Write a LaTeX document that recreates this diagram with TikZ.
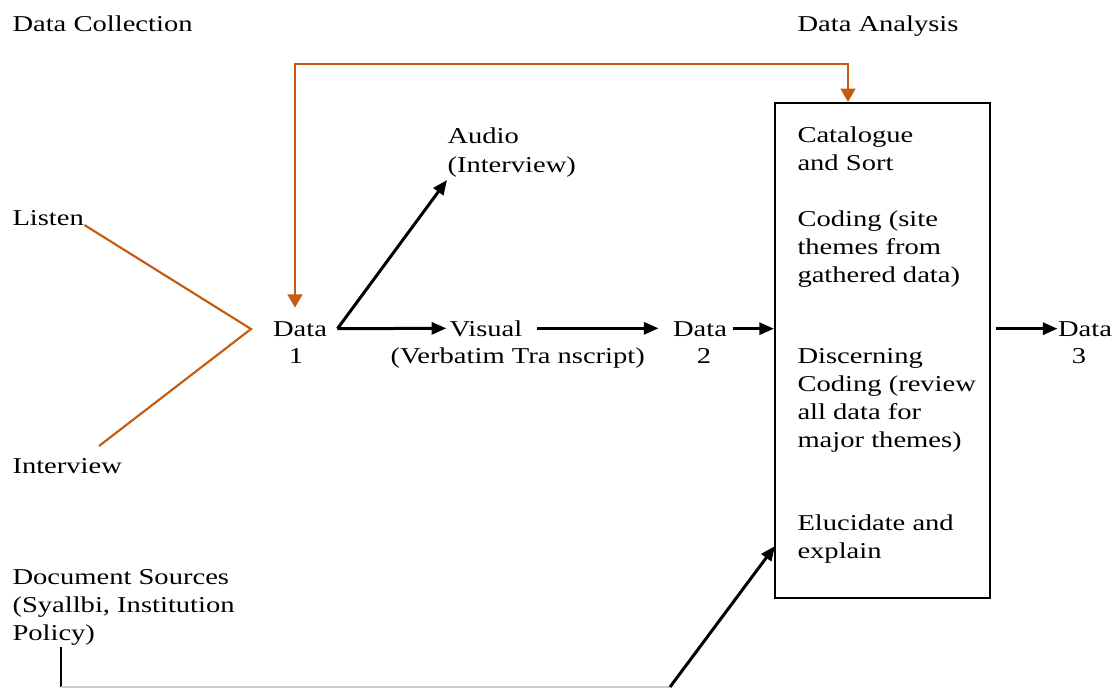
\documentclass[tikz,border=0pt]{standalone}
\usepackage{fontspec}
\setmainfont{Liberation Serif}[FakeStretch=1.26]
\usetikzlibrary{arrows.meta}

\definecolor{fbcol}{RGB}{197,90,17}
\newcommand\diagfont{\fontsize{17pt}{21pt}\selectfont}

\tikzset{every picture/.style={line width=0.75pt}}
\tikzset{
  txt/.style={inner sep=0pt, font=\diagfont, align=left, anchor=base west},
  num/.style={inner sep=0pt, font=\diagfont, anchor=base},
  arr/.style={line width=2.25pt, -{Triangle[length=11pt,width=9pt]}},
  fbline/.style={draw=fbcol, line width=2pt, {Triangle[length=10pt,width=11pt]}-{Triangle[length=10pt,width=11pt]}},
  srcline/.style={draw=fbcol, line width=1.6pt},
  stagebox/.style={draw, line width=1.6pt, minimum width=161.25pt, minimum height=371.25pt, inner sep=0pt},
}

\begin{document}
\begin{tikzpicture}[x=0.75pt,y=-0.75pt]
\path[fill=white,use as bounding box] (0,0) rectangle (1116,688);

% Headings
\node[txt] (colhead) at (12,32) {Data Collection};
\node[txt] (anahead) at (797,32) {Data Analysis};

% Sources (base = last line)
\node[txt] (listen) at (12,225) {Listen};
\node[txt] (interview) at (12,473) {Interview};
\node[txt] (doc) at (12,640) {Document Sources\\(Syallbi, Institution\\Policy)};

% Data stages
\node[num] (d1) at (300,336) {Data};
\node[num] (d1n) at (296,363) {1};
\node[txt] (audio) at (447,172) {Audio\\(Interview)};
\node[txt] (vis) at (449,336) {Visual};
\node[txt] (visnote) at (390,363) {(Verbatim Tra nscript)};
\node[num] (d2) at (700,336) {Data};
\node[num] (d2n) at (704,363) {2};
\node[num] (d3) at (1085,336) {Data};
\node[num] (d3n) at (1079,363) {3};

% Analysis box
\node[stagebox] (box) at (882.5,350.5) {};
\node[txt] (s1) at (797,171) {Catalogue\\and Sort};
\node[txt] (s2) at (797,282) {Coding (site\\themes from\\gathered data)};
\node[txt] (s3) at (797,447) {Discerning\\Coding (review\\all data for\\major themes)};
\node[txt] (s4) at (797,558) {Elucidate and\\explain};

% Helper points
\coordinate (d1out) at ([xshift=7.5pt]d1.east);
\coordinate (join) at (251,329);
\coordinate (ivend) at (99,446);
\coordinate (loopL) at (295,64);
\coordinate (loopR) at (848,64);
\coordinate (dtail) at (61,647);
\coordinate (dcorner) at (61,687);
\coordinate (dturn) at (670,687);
\coordinate (docin) at (775,546);

% Listen / Interview into Data 1
\draw[srcline] (listen.base east) -- (join) -- (ivend);

% Feedback loop
\draw[fbline, shorten >=9.75pt] (loopR |- box.north) -- (loopR) -- (loopL) -- (loopL |- d1.north);

% Flow arrows
\draw[arr] (d1out) -- ([yshift=-2pt]audio.south west);
\draw[arr, shorten >=2pt] (d1out) -- (vis.west);
\draw[arr, shorten <=10.5pt, shorten >=10.5pt] (vis.east) -- (d2.west |- vis.east);
\draw[arr, shorten <=4.5pt] (d2.east) -- (d2.east -| box.west);
\draw[arr, shorten <=4pt] (d3.west -| box.east) -- (d3.west);

% Document sources path
\draw[line width=2pt] (dtail) -- (dcorner);
\draw[gray!40, line width=1pt] (dcorner) -- (dturn);
\draw[arr] (dturn) -- (docin);
\end{tikzpicture}
\end{document}
